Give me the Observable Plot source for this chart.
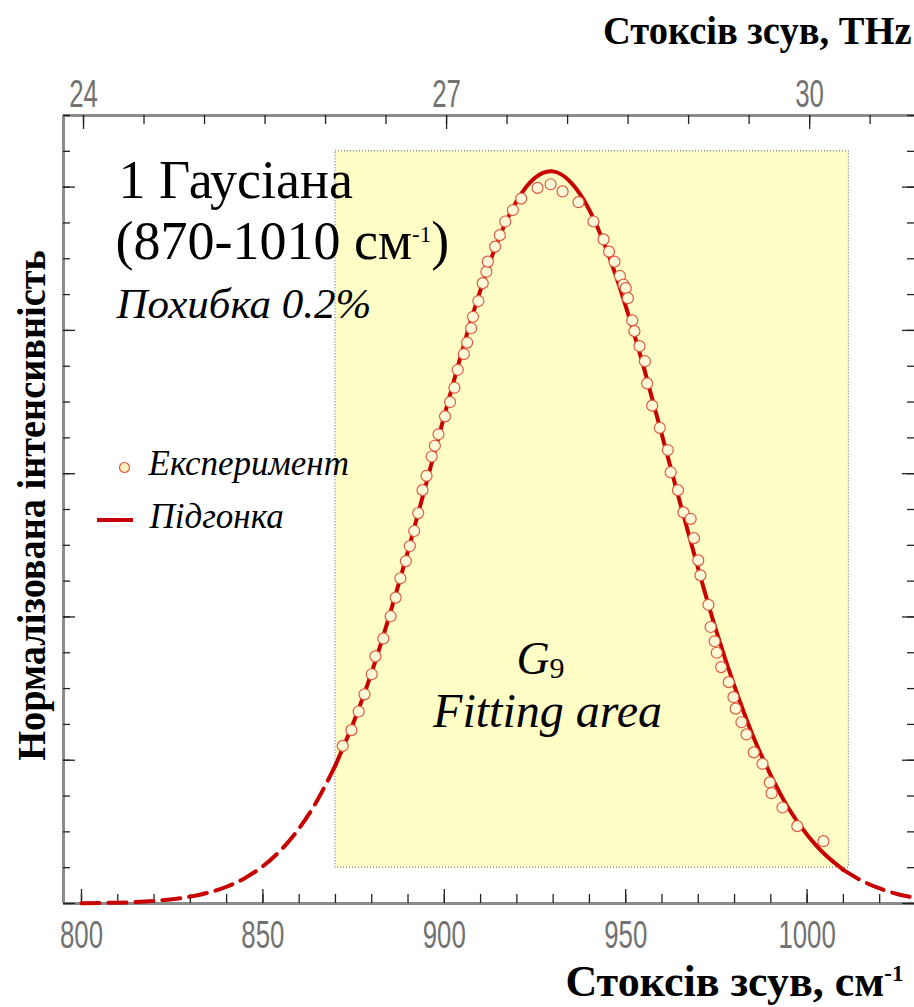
<!DOCTYPE html>
<html><head><meta charset="utf-8">
<script src="https://cdn.jsdelivr.net/npm/d3@7"></script>
<script src="https://cdn.jsdelivr.net/npm/@observablehq/plot@0.6"></script>
<style>
html,body{margin:0;padding:0;background:#fff;}
#chart svg{display:block;}
</style>
</head><body>
<div id="chart"></div>
<script>
// ---------------- data ----------------
const expX = [872.0, 874.4, 876.4, 878.0, 880.0, 881.0, 883.2, 885.2, 886.6, 887.9, 889.4, 890.5, 891.7, 892.8, 894.0, 895.1, 896.5, 897.4, 898.4, 900.2, 901.6, 902.8, 903.7, 905.4, 906.3, 907.4, 907.9, 909.4, 910.6, 911.6, 912.0, 914.0, 915.3, 916.8, 918.9, 921.2,
  925.7, 929.3, 932.6, 937.0, 941.1, 943.9,
  945.4, 946.9, 948.4, 949.4, 950.0, 950.6, 951.8, 952.4, 953.8, 955.3, 955.9, 957.3, 959.4, 961.6, 962.4, 964.4, 965.9, 967.9, 968.8, 970.0, 970.6, 972.8, 973.4, 974.5, 975.1, 976.3, 978.4, 979.7, 980.3, 981.9, 983.3, 985.3, 987.7, 989.7, 990.2, 993.2, 997.3, 1004.5];
const expY = [0.220, 0.242, 0.268, 0.292, 0.320, 0.345, 0.370, 0.401, 0.427, 0.454, 0.478, 0.499, 0.520, 0.545, 0.577, 0.597, 0.624, 0.639, 0.655, 0.680, 0.700, 0.720, 0.745, 0.767, 0.783, 0.803, 0.819, 0.841, 0.866, 0.882, 0.896, 0.917, 0.933, 0.952, 0.968, 0.984,
  0.999, 1.004, 0.994, 0.979, 0.952, 0.927,
  0.910, 0.896, 0.876, 0.864, 0.859, 0.845, 0.814, 0.799, 0.778, 0.757, 0.726, 0.695, 0.664, 0.633, 0.602, 0.577, 0.546, 0.537, 0.510, 0.479, 0.458, 0.417, 0.386, 0.366, 0.350, 0.330, 0.309, 0.288, 0.272, 0.253, 0.236, 0.211, 0.195, 0.169, 0.154, 0.134, 0.108, 0.087];

const fitX = [800, 805, 810, 815, 820, 825, 830, 835, 840, 845, 850, 855, 860, 865, 870, 875, 880, 885, 890, 895, 900, 905, 910, 915, 920, 925, 930, 935, 940, 945, 950, 955, 960, 965, 970, 975, 980, 985, 990, 995, 1000, 1005, 1010, 1015, 1020, 1025, 1030];
const fitY = [0.0004, 0.0007, 0.0012, 0.0021, 0.0036, 0.0059, 0.0096, 0.0152, 0.0234, 0.0354, 0.0521, 0.0749, 0.105, 0.144, 0.193, 0.253, 0.323, 0.404, 0.492, 0.586, 0.681, 0.773, 0.857, 0.928, 0.981, 1.013, 1.022, 1.006, 0.968, 0.909, 0.834, 0.748, 0.654, 0.559, 0.467, 0.380, 0.303, 0.235, 0.179, 0.132, 0.096, 0.068, 0.047, 0.032, 0.021, 0.013, 0.008];

const fitRange = [870, 1010];          // fitting range, cm-1 (solid part of the fit)
const fitAreaX = [870, 1011.5];        // shaded area as drawn
const fitAreaY = [0.05, 1.05];
const xDomain = [795.04, 1029.6];
const yDomain = [0, 1.1];
const xMajorTicks = [800, 850, 900, 950, 1000];
const xMinorTicks = [800, 810, 820, 830, 840, 850, 860, 870, 880, 890, 900, 910, 920, 930, 940, 950, 960, 970, 980, 990, 1000, 1010, 1020];
const thzMajorTicks = [24, 27, 30];
const thzMinorTicks = [24, 24.5, 25, 25.5, 26, 26.5, 27, 27.5, 28, 28.5, 29, 29.5, 30, 30.5];
const yMajorTicks = [0, 0.2, 0.4, 0.6, 0.8, 1.0];
const yMinorTicks = [0, 0.05, 0.1, 0.15, 0.2, 0.25, 0.3, 0.35, 0.4, 0.45, 0.5, 0.55, 0.6, 0.65, 0.7, 0.75, 0.8, 0.85, 0.9, 0.95, 1.0, 1.05, 1.1];
const CM_PER_THZ = 33.35641;

const titleTop = "Стоксів зсув, THz";
const titleBottom = "Стоксів зсув, см^-1";
const titleY = "Нормалізована інтенсивність";
const annotTitle = "1 Гаусіана";
const annotRange = "(870-1010 см^-1^)";
const annotError = "Похибка 0.2%";
const legendLabels = ["Експеримент", "Підгонка"];
const areaLabel = "G_9";
const areaText = "Fitting area";

// ---------------- build ----------------
const W = 914, H = 1007, mT = 115, mB = 104, mL = 63, mR = 0;
const frameW = W - mL - mR, frameH = H - mT - mB;
const serif = "Liberation Serif, Times New Roman, DejaVu Serif, serif";
const sans = "Liberation Sans, Arial, sans-serif";
const red = "#c80000";
const ptStroke = "#de5a44";
const ptFill = "#fffbd8";
const axisGray = "#8c8c8c";
const tickCol = "#222";

const fit = fitX.map((x, i) => ({x, y: fitY[i]}));
const exp = expX.map((x, i) => ({x, y: expY[i]}));
const fitLeft = fit.filter(d => d.x <= fitRange[0]);
const fitMid = fit.filter(d => d.x >= fitRange[0] && d.x <= fitRange[1]);
const fitRight = fit.filter(d => d.x >= fitRange[1]);
const fitArea = [{x1: fitAreaX[0], x2: fitAreaX[1], y1: fitAreaY[0], y2: fitAreaY[1]}];

const txt = (o) => Object.assign({text: d => d, frameAnchor: "top-left", textAnchor: "start", lineAnchor: "bottom", fontFamily: serif, fill: "#000"}, o);

const svg = Plot.plot({
  width: W, height: H,
  marginTop: mT, marginBottom: mB, marginLeft: mL, marginRight: mR,
  x: {domain: xDomain, axis: null},
  y: {domain: yDomain, axis: null},
  style: {background: "white"},
  marks: [
    Plot.rect(fitArea, {x1: "x1", x2: "x2", y1: "y1", y2: "y2", fill: "#fffec6", stroke: "#555", strokeWidth: 1, strokeDasharray: "1,2"}),
    // axis lines
    Plot.ruleX([xDomain[0]], {stroke: axisGray, strokeWidth: 3}),
    Plot.ruleY([yDomain[0]], {stroke: axisGray, strokeWidth: 3}),
    Plot.ruleY([yDomain[1]], {stroke: axisGray, strokeWidth: 3}),
    // bottom ticks
    Plot.ruleX(xMinorTicks, {x: d => d, insetTop: frameH - 9, stroke: tickCol, strokeWidth: 1.3}),
    Plot.ruleX(xMajorTicks, {x: d => d, insetTop: frameH - 14, stroke: tickCol, strokeWidth: 1.3}),
    // top ticks (THz)
    Plot.ruleX(thzMinorTicks, {x: d => d * CM_PER_THZ, insetBottom: frameH - 9, stroke: tickCol, strokeWidth: 1.3}),
    Plot.ruleX(thzMajorTicks, {x: d => d * CM_PER_THZ, insetBottom: frameH - 14, stroke: tickCol, strokeWidth: 1.3}),
    // left / right ticks
    Plot.ruleY(yMinorTicks, {y: d => d, insetRight: frameW - 7, stroke: tickCol, strokeWidth: 1.3}),
    Plot.ruleY(yMajorTicks, {y: d => d, insetRight: frameW - 12, stroke: tickCol, strokeWidth: 1.3}),
    Plot.ruleY(yMinorTicks, {y: d => d, insetLeft: frameW - 7, stroke: tickCol, strokeWidth: 1.3}),
    Plot.ruleY(yMajorTicks, {y: d => d, insetLeft: frameW - 12, stroke: tickCol, strokeWidth: 1.3}),
    // tick labels
    Plot.text(xMajorTicks, {x: d => d, text: d => String(d), frameAnchor: "bottom", lineAnchor: "top", dy: 18, fontSize: 38, fontFamily: sans, fill: "#727272"}),
    Plot.text(thzMajorTicks, {x: d => d * CM_PER_THZ, text: d => String(d), frameAnchor: "top", lineAnchor: "bottom", dy: -9, fontSize: 38, fontFamily: sans, fill: "#727272"}),
    // fit curve
    Plot.line(fitLeft, {x: "x", y: "y", curve: "natural", stroke: red, strokeWidth: 4, strokeDasharray: "18,9"}),
    Plot.line(fitRight, {x: "x", y: "y", curve: "natural", stroke: red, strokeWidth: 4, strokeDasharray: "18,9"}),
    Plot.line(fitMid, {x: "x", y: "y", curve: "natural", stroke: red, strokeWidth: 4}),
    // experiment
    Plot.dot(exp, {x: "x", y: "y", r: 5.5, fill: ptFill, stroke: ptStroke, strokeWidth: 1.2}),
    // axis titles
    Plot.text([titleTop], txt({frameAnchor: "top-right", dx: -3, dy: -72, textAnchor: "end", fontSize: 41, fontWeight: "bold"})),
    Plot.text([titleBottom], txt({frameAnchor: "bottom-right", dx: -11, dy: 92, textAnchor: "end", fontSize: 44, fontWeight: "bold"})),
    Plot.text([titleY], txt({frameAnchor: "left", dx: -19, dy: -4, rotate: -90, textAnchor: "middle", fontSize: 41, fontWeight: "bold"})),
    // annotations
    Plot.text([annotTitle], txt({dx: 55, dy: 82, fontSize: 54})),
    Plot.text([annotRange], txt({dx: 52, dy: 143, fontSize: 54})),
    Plot.text([annotError], txt({dx: 53, dy: 202, fontSize: 43, fontStyle: "italic"})),
    // legend
    Plot.dot([legendLabels[0]], {frameAnchor: "top-left", dx: 61, dy: 352, r: 5, fill: "#fff2b8", stroke: ptStroke, strokeWidth: 1.2}),
    Plot.text([legendLabels[0]], txt({dx: 85, dy: 359, fontSize: 35, fontStyle: "italic"})),
    Plot.rect([legendLabels[1]], {insetLeft: 34, insetRight: W - mL - 70, insetTop: 403, insetBottom: frameH - 407, fill: red}),
    Plot.text([legendLabels[1]], txt({dx: 86, dy: 412, fontSize: 35, fontStyle: "italic"})),
    // fitting area labels
    Plot.text([areaLabel], txt({dx: 477, dy: 558, textAnchor: "middle", fontSize: 46, fontStyle: "italic"})),
    Plot.text([areaText], txt({dx: 484, dy: 611, textAnchor: "middle", fontSize: 48, fontStyle: "italic"}))
  ]
});

// make font attributes win over any inherited stylesheet
d3.select(svg).selectAll("g[font-family]").each(function() {
  this.style.fontFamily = this.getAttribute("font-family");
  if (this.getAttribute("font-style")) this.style.fontStyle = this.getAttribute("font-style");
  if (this.getAttribute("font-weight")) this.style.fontWeight = this.getAttribute("font-weight");
});

// condensed text (axis labels in the original are horizontally compressed)
const stretch = new Map();
[...xMajorTicks, ...thzMajorTicks].forEach(v => stretch.set(String(v), 0.68));
stretch.set(titleTop, 0.94);
stretch.set(titleBottom, 1.0);
stretch.set(titleY, 0.935);
d3.select(svg).selectAll("text").each(function() {
  const s = this.textContent;
  if (stretch.has(s)) {
    const t = this.getAttribute("transform") || "";
    this.setAttribute("transform", `${t} scale(${stretch.get(s)},1)`);
  }
});

// superscripts / subscripts
function rich(content, marker, size, shift, extra) {
  d3.select(svg).selectAll("text").filter(function() { return this.textContent === content; }).each(function() {
    const parts = content.split(marker);
    const el = d3.select(this);
    el.text(null);
    parts.forEach((p, i) => {
      if (!p) return;
      const t = el.append("tspan").text(p);
      if (i % 2) {
        t.attr("font-size", size).attr("dy", shift);
        if (extra) extra(t);
      } else if (i > 0) {
        t.attr("dy", -shift);
      }
    });
  });
}
rich(annotRange, "^", 23, -17);
rich(titleBottom, "^", 23, -15);
rich(areaLabel, "_", 30, 4, t => t.style("font-style", "normal"));

document.getElementById("chart").appendChild(svg);
</script>
</body></html>
